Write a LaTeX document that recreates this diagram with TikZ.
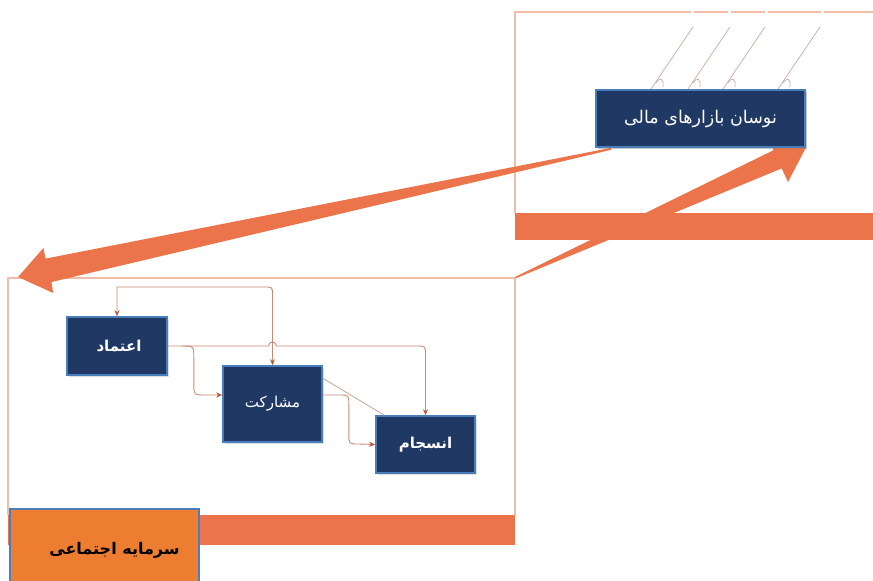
\documentclass[tikz,border=0pt]{standalone}
\usepackage{fontspec}
\usetikzlibrary{arrows.meta,calc,shadows}
\TeXXeTstate=1
\newfontfamily\fa[Script=Arabic]{DejaVu Sans}
\definecolor{navy}{HTML}{203864}
\definecolor{nborder}{HTML}{4A7EBB}
\definecolor{barorange}{HTML}{EC744A}
\definecolor{boxorange}{HTML}{ED7D31}
\definecolor{panelline}{HTML}{F2BCA8}
\definecolor{connline}{HTML}{C98A72}
\definecolor{conntip}{HTML}{B4563A}
\definecolor{hatch}{HTML}{C8ABA2}
\pgfdeclarelayer{bg}
\pgfsetlayers{bg,main}
\tikzset{
  navybox/.style={draw=nborder, line width=1.6pt, fill=navy, text=white, inner sep=0pt,
    drop shadow={shadow xshift=2pt, shadow yshift=-2pt, opacity=0.25}},
  conn/.style={draw=connline, line width=0.9pt},
  tiphead/.tip={Stealth[length=6pt,width=5pt,color=conntip]},
  tip/.style={-tiphead},
  panel/.style={draw=panelline, line width=1.3pt},
  hatchline/.style={draw=hatch, line width=0.7pt}
}
\begin{document}
\begin{tikzpicture}[x=1pt,y=-1pt]
\begin{pgfonlayer}{bg}
\fill[white] (0,0) rectangle (873,581);
\end{pgfonlayer}
\useasboundingbox (0,0) rectangle (873,581);
% top-right panel
\draw[panel] (873,12) -- (515,12) -- (515,213);
\fill[barorange] (515,213) rectangle (873,240);
\foreach \gx in {692,729,766,822}{\fill[white] (\gx-1.5,10) rectangle (\gx+1.5,14);}
% hatch lines
\foreach \hx in {693,730,765,820}{
  \draw[hatchline] (\hx,27) -- (\hx-42,89);
  \draw[hatchline] (\hx-37,83) .. controls (\hx-33,77) and (\hx-29,78) .. (\hx-30,87);
}
% bottom-left panel
\draw[panel] (8,515) -- (8,278) -- (515,278) -- (515,515);
\fill[barorange] (8,515) rectangle (515,545);
% nodes
\node[navybox, minimum width=209pt, minimum height=57pt] (nosan) at (700.5,118.5)
  {\fa\fontsize{17.5pt}{20pt}\selectfont\beginR نوسان بازارهای مالی\endR};
% big arrow 1 (from nosan to the left) and big arrow 2 (to nosan)
\coordinate (t1) at (18,277);
\coordinate (s2) at (515,277);
\fill[barorange] ($(nosan.south west)+(16,0)$) -- ($(nosan.south west)+(16,2)$) -- (51.5,282) -- (53.2,293) -- (t1) -- (43.4,248) -- (45.6,258.6) -- cycle;
\fill[barorange] (s2) -- (773.5,150.2) -- (771.9,146.5) -- (nosan.south east) -- (788,182) -- (781.7,168.4) -- ($(s2)+(0.6,1.4)$) -- cycle;
\node[navybox, minimum width=209pt, minimum height=57pt] (nosantop) at (nosan)
  {\fa\fontsize{17.5pt}{20pt}\selectfont\beginR نوسان بازارهای مالی\endR};
% small network
\node[navybox, minimum width=100pt, minimum height=58pt] (eteb) at (117,346)
  {\hspace*{4pt}\fa\bfseries\fontsize{15pt}{17pt}\selectfont\beginR اعتماد\endR};
\node[navybox, minimum width=99pt, minimum height=76pt] (mosh) at (272.5,404)
  {\fa\fontsize{15pt}{17pt}\selectfont\beginR مشارکت\endR};
\node[navybox, minimum width=99pt, minimum height=57pt] (ensj) at (425.5,444.5)
  {\raisebox{-4pt}{\fa\bfseries\fontsize{15pt}{17pt}\selectfont\beginR انسجام\endR}};
% connectors
\draw[conn, tiphead-tiphead]
  (eteb.north) -- (eteb.north |- 0,287) -- ($(mosh.north |- 0,287)+(-8,0)$)
  .. controls (mosh.north |- 0,287) .. ($(mosh.north |- 0,287)+(0,8)$) -- (mosh.north);
\draw[conn, tip] (eteb.east) -- ($(mosh.north |- eteb.east)+(-4,0)$)
  arc[start angle=180, end angle=0, radius=4pt]
  -- ($(ensj.north |- eteb.east)+(-9,0)$) .. controls (ensj.north |- eteb.east) .. ($(ensj.north |- eteb.east)+(0,9)$)
  -- (ensj.north);
\draw[conn, tip] ($(eteb.east)+(14,0)$) .. controls ($(eteb.east)+(26,0)$) .. ($(eteb.east)+(26,12)$)
  -- ($(eteb.east)+(26,38)$) .. controls ($(eteb.east)+(26,49)$) .. ($(eteb.east)+(38,49)$)
  -- ($(mosh.west)+(0,-9)$);
\draw[conn, tip] ($(mosh.east)+(0,-9)$) -- ($(mosh.east)+(16,-9)$) .. controls ($(mosh.east)+(26,-9)$) .. ($(mosh.east)+(26,1)$)
  -- ($(mosh.east)+(26,30)$) .. controls ($(mosh.east)+(26,40)$) .. ($(mosh.east)+(36,40)$)
  -- (ensj.west);
\draw[conn, draw=hatch] ($(mosh.north east)+(0,13)$) -- ($(ensj.north west)+(9,0)$);
% social capital box
\node[draw=nborder, line width=1.6pt, fill=boxorange, text=black, inner sep=0pt,
  minimum width=189pt, minimum height=82pt] (sarm) at (104.5,550)
  {\hspace*{20pt}\raisebox{2pt}{\fa\bfseries\fontsize{16pt}{18pt}\selectfont\beginR سرمایه اجتماعی\endR}};
\end{tikzpicture}
\end{document}
